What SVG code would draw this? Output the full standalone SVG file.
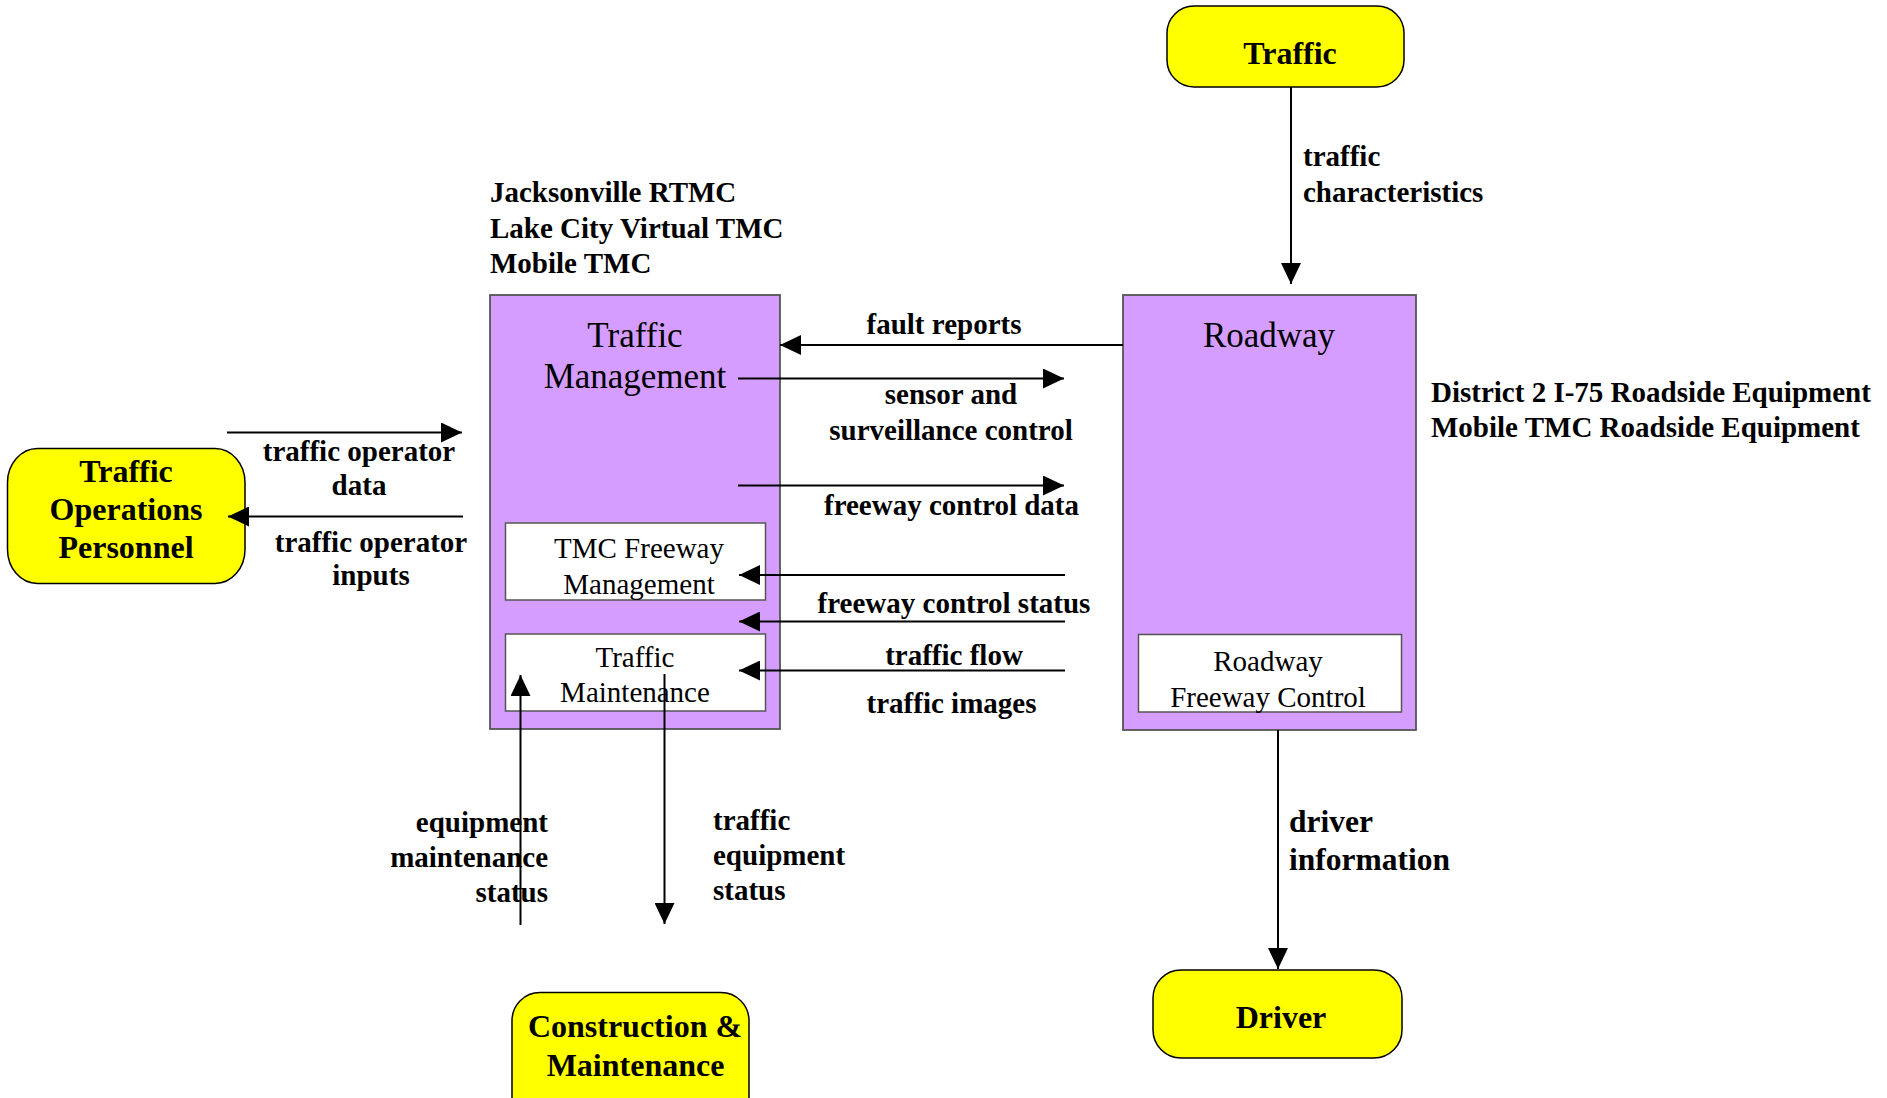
<svg xmlns="http://www.w3.org/2000/svg" width="1887" height="1098" viewBox="0 0 1887 1098">
<style>
.ext{fill:#FFFF00;stroke:#000;stroke-width:1.5}
.sys{fill:#D49DFF;stroke:#555;stroke-width:1.8}
.sub{fill:#fff;stroke:#555;stroke-width:1.5}
.t{font-family:"Liberation Serif","Times New Roman",serif;fill:#000}
.b{font-weight:bold;font-size:29px}
.eb{font-weight:bold;font-size:32px}
.r34{font-size:35px}
.r29{font-size:29px}
.c{stroke:#000;stroke-width:2;fill:none}
</style>
<defs>
<marker id="ah" viewBox="0 0 21 20" refX="21" refY="10" markerWidth="21" markerHeight="20" markerUnits="userSpaceOnUse" orient="auto">
<path d="M0,0 L21,10 L0,20 Z" fill="#000"/>
</marker>
</defs>
<rect width="1887" height="1098" fill="#fff"/>

<g id="tmc">
<rect class="sys" x="490" y="295" width="290" height="434"/>
<text class="t r34" x="635" y="347" text-anchor="middle">Traffic</text>
<text class="t r34" x="635" y="388" text-anchor="middle">Management</text>
</g>
<g id="tmc-freeway">
<rect class="sub" x="505.5" y="523" width="260" height="77"/>
<text class="t r29" x="639" y="558" text-anchor="middle">TMC Freeway</text>
<text class="t r29" x="639" y="594" text-anchor="middle">Management</text>
</g>
<g id="traffic-maintenance">
<rect class="sub" x="505.5" y="634" width="260" height="77"/>
<text class="t r29" x="635" y="667" text-anchor="middle">Traffic</text>
<text class="t r29" x="635" y="702" text-anchor="middle">Maintenance</text>
</g>
<g id="tmc-label">
<text class="t b" x="490" y="202">Jacksonville RTMC</text>
<text class="t b" x="490" y="237.5">Lake City Virtual TMC</text>
<text class="t b" x="490" y="272.5">Mobile TMC</text>
</g>

<g id="roadway">
<rect class="sys" x="1123" y="295" width="293" height="435"/>
<text class="t r34" x="1269" y="347" text-anchor="middle">Roadway</text>
</g>
<g id="roadway-freeway">
<rect class="sub" x="1138.5" y="634.5" width="263" height="77.5"/>
<text class="t r29" x="1268" y="671" text-anchor="middle">Roadway</text>
<text class="t r29" x="1268" y="707" text-anchor="middle">Freeway Control</text>
</g>
<g id="roadway-label">
<text class="t b" x="1431" y="402">District 2 I-75 Roadside Equipment</text>
<text class="t b" x="1431" y="437">Mobile TMC Roadside Equipment</text>
</g>

<g id="traffic">
<rect class="ext" x="1167" y="6" width="237" height="81" rx="27" ry="27"/>
<text class="t eb" x="1290" y="64" text-anchor="middle">Traffic</text>
</g>
<g id="driver">
<rect class="ext" x="1153" y="970" width="249" height="88" rx="28" ry="28"/>
<text class="t eb" x="1281" y="1028" text-anchor="middle">Driver</text>
</g>
<g id="top">
<rect class="ext" x="7.5" y="448.5" width="237.5" height="135" rx="30" ry="34"/>
<text class="t eb" x="126" y="482" text-anchor="middle">Traffic</text>
<text class="t eb" x="126" y="520" text-anchor="middle">Operations</text>
<text class="t eb" x="126" y="558" text-anchor="middle">Personnel</text>
</g>
<g id="cm">
<rect class="ext" x="512" y="992.5" width="237" height="135" rx="28" ry="28"/>
<text class="t eb" x="635" y="1037" text-anchor="middle">Construction &amp;</text>
<text class="t eb" x="635.5" y="1076" text-anchor="middle">Maintenance</text>
</g>

<g id="connectors">
<line class="c" x1="1291" y1="87" x2="1291" y2="284" marker-end="url(#ah)"/>
<line class="c" x1="1123" y1="345" x2="780" y2="345" marker-end="url(#ah)"/>
<line class="c" x1="738" y1="378.5" x2="1064" y2="378.5" stroke-width="1.5" marker-end="url(#ah)"/>
<line class="c" x1="738" y1="485.5" x2="1064" y2="485.5" stroke-width="1.5" marker-end="url(#ah)"/>
<line class="c" x1="1065" y1="575" x2="739" y2="575" stroke-width="1.5" marker-end="url(#ah)"/>
<line class="c" x1="1065" y1="621.5" x2="739" y2="621.5" stroke-width="1.5" marker-end="url(#ah)"/>
<line class="c" x1="1065" y1="670.5" x2="739" y2="670.5" stroke-width="1.5" marker-end="url(#ah)"/>
<line class="c" x1="227" y1="432.5" x2="462" y2="432.5" marker-end="url(#ah)"/>
<line class="c" x1="463" y1="516.5" x2="228" y2="516.5" marker-end="url(#ah)"/>
<line class="c" x1="520.5" y1="925" x2="520.5" y2="675" marker-end="url(#ah)"/>
<line class="c" x1="664.5" y1="674" x2="664.5" y2="924" marker-end="url(#ah)"/>
<line class="c" x1="1278" y1="730" x2="1278" y2="969" marker-end="url(#ah)"/>
</g>

<g id="connector-labels">
<text class="t b" x="1303" y="166">traffic</text>
<text class="t b" x="1303" y="202">characteristics</text>
<text class="t b" x="944" y="334" text-anchor="middle">fault reports</text>
<text class="t b" x="951" y="404" text-anchor="middle">sensor and</text>
<text class="t b" x="951" y="439.5" text-anchor="middle">surveillance control</text>
<text class="t b" x="951.5" y="515" text-anchor="middle">freeway control data</text>
<text class="t b" x="954" y="613" text-anchor="middle">freeway control status</text>
<text class="t b" x="954" y="665" text-anchor="middle">traffic flow</text>
<text class="t b" x="951.5" y="713" text-anchor="middle">traffic images</text>
<text class="t b" x="359" y="461" text-anchor="middle">traffic operator</text>
<text class="t b" x="359" y="495" text-anchor="middle">data</text>
<text class="t b" x="371" y="552" text-anchor="middle">traffic operator</text>
<text class="t b" x="371" y="585" text-anchor="middle">inputs</text>
<text class="t b" x="548" y="832" text-anchor="end">equipment</text>
<text class="t b" x="548" y="867" text-anchor="end">maintenance</text>
<text class="t b" x="548" y="902" text-anchor="end">status</text>
<text class="t b" x="713" y="830">traffic</text>
<text class="t b" x="713" y="865">equipment</text>
<text class="t b" x="713" y="900">status</text>
<text class="t b" x="1289" y="832" style="font-size:31.5px">driver</text>
<text class="t b" x="1289" y="869.5" style="font-size:31.5px">information</text>
</g>
</svg>
